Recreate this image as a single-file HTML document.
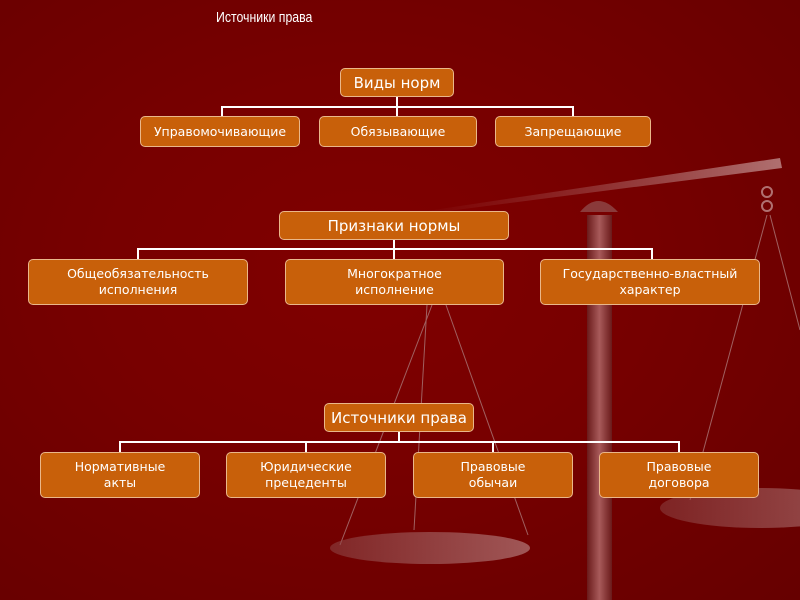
<!DOCTYPE html>
<html><head><meta charset="utf-8"><style>
body{margin:0;width:800px;height:600px;overflow:hidden;position:relative;
background:radial-gradient(ellipse at 45% 45%,#800000 0%,#780000 40%,#660000 100%);
font-family:"DejaVu Sans","Liberation Sans",sans-serif;}
svg{position:absolute;left:0;top:0}
.b{position:absolute;box-sizing:border-box;background:#c8600a;border:1.5px solid #eab78a;border-radius:5px;color:#fff;display:flex;align-items:center;justify-content:center;text-align:center;font-size:12.5px;line-height:16px}
.t{position:absolute;left:216px;top:9px;color:#fff;font-family:"Liberation Sans",sans-serif;font-size:15px;transform:scaleX(0.82);transform-origin:0 0}
.l{position:absolute;background:#fff}
</style></head><body>
<svg width="800" height="600">
<defs>
<linearGradient id="g1" x1="0" x2="1"><stop offset="0" stop-color="#a05050" stop-opacity="0"/><stop offset="1" stop-color="#b07070"/></linearGradient>
<linearGradient id="g2" x1="0" x2="1"><stop offset="0" stop-color="#6a1a1a"/><stop offset="0.5" stop-color="#a85a5a"/><stop offset="1" stop-color="#6a1a1a"/></linearGradient>
<linearGradient id="g3" x1="0" x2="1"><stop offset="0" stop-color="#8a4040"/><stop offset="1" stop-color="#c09090"/></linearGradient>
</defs>
<polygon points="420,212 780,158 782,168 425,214" fill="url(#g1)"/>
<rect x="587" y="215" width="25" height="385" fill="url(#g2)"/>
<path d="M580,212 Q598,190 618,212 Z" fill="#8a3a3a"/>
<line x1="432" y1="305" x2="340" y2="545" stroke="#a06060" stroke-width="1"/>
<line x1="427" y1="305" x2="414" y2="530" stroke="#a06060" stroke-width="1"/>
<line x1="446" y1="305" x2="528" y2="535" stroke="#a06060" stroke-width="1"/>
<ellipse cx="430" cy="548" rx="100" ry="16" fill="url(#g3)" opacity="0.6"/>
<line x1="767" y1="215" x2="690" y2="500" stroke="#a06060"/>
<line x1="770" y1="215" x2="800" y2="330" stroke="#a06060"/>
<ellipse cx="760" cy="508" rx="100" ry="20" fill="url(#g3)" opacity="0.55"/>
<circle cx="767" cy="192" r="5" fill="none" stroke="#b07070" stroke-width="2"/>
<circle cx="767" cy="206" r="5" fill="none" stroke="#b07070" stroke-width="2"/>
</svg>
<div class="t">Источники права</div>
<div class="l" style="left:396px;top:96px;width:2px;height:11px"></div>
<div class="l" style="left:221px;top:106px;width:353px;height:2px"></div>
<div class="l" style="left:221px;top:106px;width:2px;height:10px"></div>
<div class="l" style="left:396px;top:106px;width:2px;height:10px"></div>
<div class="l" style="left:572px;top:106px;width:2px;height:10px"></div>
<div class="l" style="left:393px;top:239px;width:2px;height:10px"></div>
<div class="l" style="left:137px;top:248px;width:516px;height:2px"></div>
<div class="l" style="left:137px;top:248px;width:2px;height:11px"></div>
<div class="l" style="left:393px;top:248px;width:2px;height:11px"></div>
<div class="l" style="left:651px;top:248px;width:2px;height:11px"></div>
<div class="l" style="left:398px;top:431px;width:2px;height:11px"></div>
<div class="l" style="left:119px;top:441px;width:561px;height:2px"></div>
<div class="l" style="left:119px;top:441px;width:2px;height:11px"></div>
<div class="l" style="left:305px;top:441px;width:2px;height:11px"></div>
<div class="l" style="left:492px;top:441px;width:2px;height:11px"></div>
<div class="l" style="left:678px;top:441px;width:2px;height:11px"></div>
<div class="b" style="left:340px;top:68px;width:114px;height:29px;font-size:15px">Виды норм</div>
<div class="b" style="left:140px;top:116px;width:160px;height:31px">Управомочивающие</div>
<div class="b" style="left:319px;top:116px;width:158px;height:31px">Обязывающие</div>
<div class="b" style="left:495px;top:116px;width:156px;height:31px">Запрещающие</div>
<div class="b" style="left:279px;top:211px;width:230px;height:29px;font-size:15px">Признаки нормы</div>
<div class="b" style="left:28px;top:259px;width:220px;height:46px">Общеобязательность<br>исполнения</div>
<div class="b" style="left:285px;top:259px;width:219px;height:46px">Многократное<br>исполнение</div>
<div class="b" style="left:540px;top:259px;width:220px;height:46px">Государственно-властный<br>характер</div>
<div class="b" style="left:324px;top:403px;width:150px;height:29px;font-size:15px">Источники права</div>
<div class="b" style="left:40px;top:452px;width:160px;height:46px">Нормативные<br>акты</div>
<div class="b" style="left:226px;top:452px;width:160px;height:46px">Юридические<br>прецеденты</div>
<div class="b" style="left:413px;top:452px;width:160px;height:46px">Правовые<br>обычаи</div>
<div class="b" style="left:599px;top:452px;width:160px;height:46px">Правовые<br>договора</div>
</body></html>
